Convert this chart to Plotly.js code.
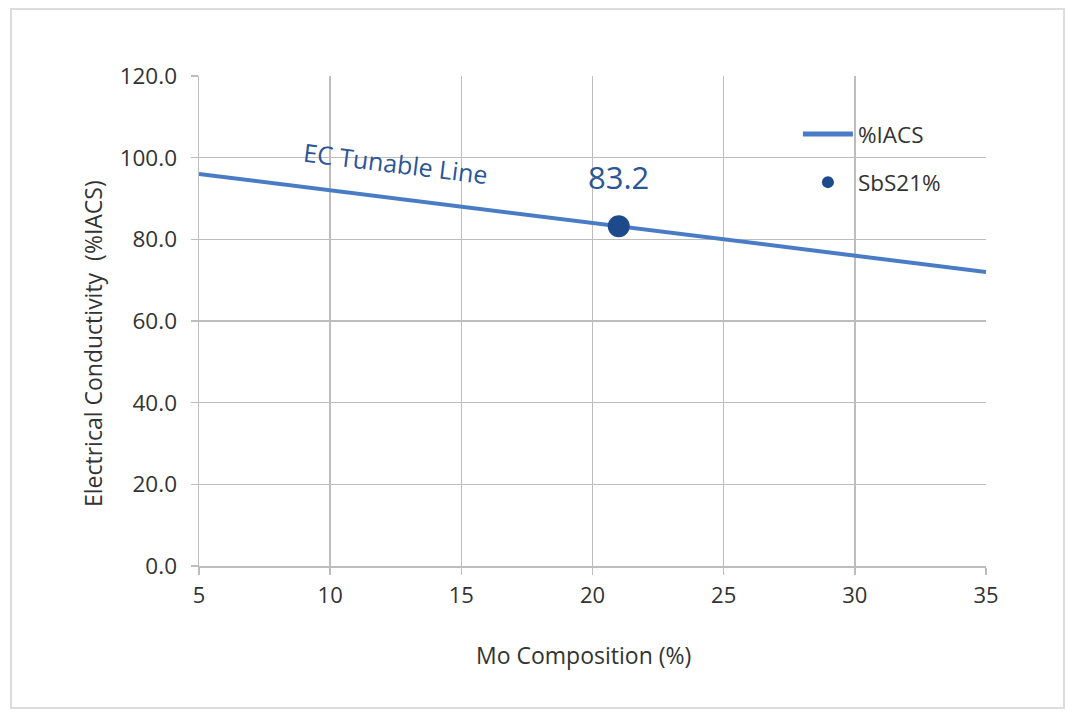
<!DOCTYPE html>
<html>
<head>
<meta charset="utf-8">
<script src="https://cdn.plot.ly/plotly-3.0.1.min.js"></script>
<style>
html,body{margin:0;padding:0;background:#fff;}
#chart{width:1066px;height:716px;}
</style>
</head>
<body>
<div id="chart"></div>
<script>
// Data
const lineX = [5, 10, 15, 20, 25, 30, 35];
const lineY = [96, 92, 88, 84, 80, 76, 72];
const pointX = [21];
const pointY = [83.2];
const lineName = "%IACS";
const pointName = "SbS21%";
const xTicks = [5, 10, 15, 20, 25, 30, 35];
const yTicks = [0, 20, 40, 60, 80, 100, 120];

const fontFam = "'Open Sans', 'Noto Sans', sans-serif";

const traces = [
  {
    x: lineX, y: lineY, mode: 'lines', name: lineName, legendgroup: 'a',
    line: {color: '#4a7cc6', width: 4}
  },
  {
    x: pointX, y: pointY, mode: 'markers', name: pointName, legendgroup: 'b',
    marker: {color: '#1c4a8a', size: 22}
  }
];

const layout = {
  width: 1066, height: 716,
  margin: {l: 199, r: 80, t: 76, b: 150},
  paper_bgcolor: '#fff', plot_bgcolor: '#fff',
  font: {family: fontFam, color: '#333', size: 22},
  showlegend: true,
  legend: {
    x: 0.761, y: 0.925, xanchor: 'left', yanchor: 'top',
    bgcolor: 'rgba(0,0,0,0)', font: {size: 22.5, color: '#333'},
    traceorder: 'grouped', tracegroupgap: 16, itemwidth: 50,
    itemsizing: 'constant'
  },
  xaxis: {
    range: [5, 35], tickvals: xTicks, ticktext: xTicks.map(String),
    showgrid: true, gridcolor: '#bdbdbd', gridwidth: 1.5,
    ticks: 'outside', ticklen: 7, tickcolor: '#bdbdbd', tickwidth: 1.5,
    ticklabelstandoff: 2,
    showline: true, linecolor: '#bdbdbd', linewidth: 1.5, mirror: false,
    zeroline: false, tickfont: {size: 22, color: '#333'}
  },
  yaxis: {
    range: [0, 120], tickvals: yTicks, tickformat: '.1f',
    showgrid: true, gridcolor: '#bdbdbd', gridwidth: 1.5,
    ticks: 'outside', ticklen: 7, tickcolor: '#bdbdbd', tickwidth: 1.5,
    ticklabelstandoff: 9,
    showline: true, linecolor: '#bdbdbd', linewidth: 1.5,
    zeroline: false, tickfont: {size: 22.5, color: '#333'}
  },
  annotations: [
    {x: (93 - 199) / 787, y: (566 - 344) / 490, xref: 'paper', yref: 'paper',
     text: 'Electrical Conductivity&nbsp; (%IACS)', showarrow: false, textangle: -90,
     xanchor: 'center', yanchor: 'middle', font: {size: 23, color: '#333'}},
    {x: (583 - 199) / 787, y: (566 - 655) / 490, xref: 'paper', yref: 'paper',
     text: 'Mo Composition (%)', showarrow: false,
     xanchor: 'center', yanchor: 'middle', font: {size: 23, color: '#333'}},
    {x: 21, y: 83.2, xref: 'x', yref: 'y', text: '83.2', showarrow: false,
     yshift: 49, font: {size: 31, color: '#2a5597'}},
    {x: 12.5, y: 98.6, xref: 'x', yref: 'y', text: 'EC Tunable Line', showarrow: false,
     textangle: 7, font: {size: 25, color: '#2a5597'}}
  ],
  shapes: [
    {type: 'rect', xref: 'paper', yref: 'paper',
     x0: (11 - 199) / 787, x1: (1064 - 199) / 787,
     y0: (566 - 708) / 490, y1: (566 - 9) / 490,
     line: {color: '#dcdcdc', width: 2}, fillcolor: 'rgba(0,0,0,0)', layer: 'below'}
  ]
};

Plotly.newPlot('chart', traces, layout, {displayModeBar: false, staticPlot: true});
</script>
</body>
</html>
